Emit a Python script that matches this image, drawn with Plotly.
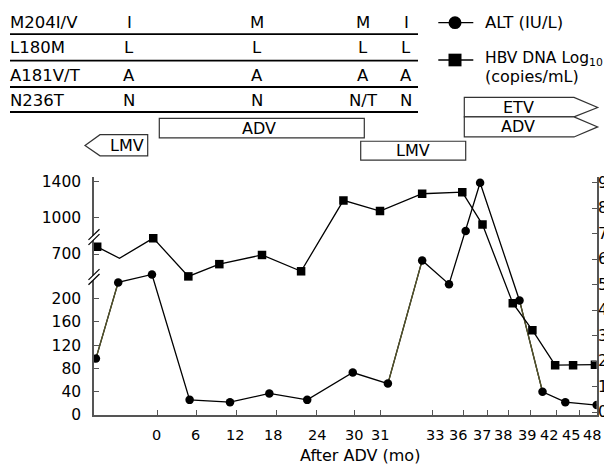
import numpy as np
import plotly.graph_objects as go

# ---------------- data ----------------
tick_months = [0, 6, 12, 18, 24, 30, 31, 33, 36, 37, 38, 39, 42, 45, 48]
tick_labels = [str(m) for m in tick_months]

# ALT (IU/L), left (broken) axis
alt_months = [-9.7, -6.2, -0.9, 5.0, 11.1, 17.0, 22.6, 29.8, 31.3, 32.6,
              34.6, 36.1, 36.7, 38.5, 40.4, 43.2, 48.0]
alt_values = [97, 228, 620, 26, 22, 37, 26, 73, 54, 675,
              225, 847, 1387, 197, 40, 22, 17]

# HBV DNA log10 copies/mL, right axis
dna_months = [-9.5, -6.0, -0.7, 4.8, 9.5, 15.9, 21.7, 28.3, 31.0, 32.6,
              35.9, 36.8, 38.2, 39.2, 41.9, 44.2, 47.7]
dna_values = [6.49, 6.04, 6.83, 5.33, 5.81, 6.17, 5.53, 8.31, 7.89, 8.57,
              8.63, 7.36, 4.28, 3.22, 1.85, 1.85, 1.87]
dna_marked = [1, 0, 1, 1, 1, 1, 1, 1, 1, 1, 1, 1, 1, 1, 1, 1, 1]

left_ticks = [0, 40, 80, 120, 160, 200, 700, 1000, 1400]
right_ticks = list(range(10))

mut_rows = ["M204I/V", "L180M", "A181V/T", "N236T"]
mut_cols = [["I", "L", "A", "N"],
            ["M", "L", "A", "N"],
            ["M", "L", "A", "N/T"],
            ["I", "L", "A", "N"]]

therapies = ["LMV", "ADV", "LMV", "ETV", "ADV"]

# ---------------- layout helpers ----------------
OFF = 8                       # page body margin
W, H = 612, 473 - OFF         # figure size
X0, X1 = 94, 596.7            # plot area in window px
Y0, Y1 = 178, 422.7
FONT = "DejaVu Sans"


def px(x):
    return (x - OFF) / W


def py(y):
    return 1 - (y - OFF) / H


# x scale: months -> axis position (non-uniform original axis)
tick_pos = [157.7, 196, 236, 276, 316.7, 354, 380, 432.7, 463.3, 487.3,
            508.3, 530.7, 556, 579.3, 596.7]
lab_pos = [156.7, 195, 235, 273, 316.7, 354, 380, 435, 458, 481.7,
           503, 526.7, 548.5, 570.5, 591.5]
anchor_m = [-10] + tick_months
anchor_p = [X0] + tick_pos


def xs(m):
    return np.interp(m, anchor_m, anchor_p)


# broken left axis: value -> display units
seg_v = [0, 230, 600, 760, 1456]
seg_d = [0, 137.3, 139, 181, Y1 - Y0]


def ys(v):
    return np.interp(v, seg_v, seg_d)


r_zero = 425.5
r_unit = 26.78
r_range = [(Y1 - r_zero) / r_unit, (r_zero - Y0) / r_unit]

fig = go.Figure()

ax = xs(alt_months)
ay = ys(alt_values)
dx = xs(dna_months)
mk = np.array(dna_marked, dtype=bool)

# DNA line + markers
fig.add_trace(go.Scatter(x=dx, y=dna_values, mode="lines", yaxis="y2",
                         line=dict(color="black", width=1.3), hoverinfo="skip"))
fig.add_trace(go.Scatter(x=dx[mk], y=np.array(dna_values)[mk], mode="markers", yaxis="y2",
                         marker=dict(symbol="square", color="#000000", size=8.5,
                                     opacity=1, line=dict(width=0))))
# ALT line
fig.add_trace(go.Scatter(x=ax, y=ay, mode="lines",
                         line=dict(color="black", width=1.3), hoverinfo="skip"))
for i in (0, 8, 13):
    fig.add_trace(go.Scatter(x=ax[i:i + 2], y=ay[i:i + 2], mode="lines",
                             line=dict(color="#55552a", width=1.3), hoverinfo="skip"))
fig.add_trace(go.Scatter(x=ax, y=ay, mode="markers",
                         marker=dict(symbol="circle", color="black", size=8.5,
                                     line=dict(width=0))))

shapes = []
annots = []

# mutation table
row_y = [20, 45.7, 74, 100]
line_y = [31.7, 59, 86, 111.7]
col_x = [129, 257, 363, 406]
for r, name in enumerate(mut_rows):
    annots.append(dict(x=px(8), y=py(row_y[r]), text=name, xanchor="left",
                       yanchor="middle", font=dict(size=16.5)))
    for c in range(4):
        annots.append(dict(x=px(col_x[c]), y=py(row_y[r]), text=mut_cols[c][r],
                           xanchor="center", yanchor="middle", font=dict(size=16.5)))
    shapes.append(dict(type="line", x0=px(10), x1=px(418), y0=py(line_y[r]),
                       y1=py(line_y[r]), line=dict(color="black", width=1.8)))


def path(pts):
    return "M " + " L ".join(f"{px(a):.5f},{py(b):.5f}" for a, b in pts) + " Z"


box_geo = [
    [(147.7, 135), (100, 135), (85, 146), (100, 156.7), (147.7, 156.7)],
    [(159.3, 118.3), (364.3, 118.3), (364.3, 138.3), (159.3, 138.3)],
    [(360.7, 141.7), (465.7, 141.7), (465.7, 161), (360.7, 161)],
    [(464.3, 96.7), (574, 96.7), (597.7, 107), (574, 116.7), (464.3, 116.7)],
    [(464.3, 116.7), (574, 116.7), (597.7, 127), (574, 137.3), (464.3, 137.3)],
]
box_lab = [(126.7, 146), (258.7, 128.3), (413.3, 151.3), (518.3, 106.7), (518.3, 127)]
for name, geo, (lx, ly) in zip(therapies, box_geo, box_lab):
    shapes.append(dict(type="path", path=path(geo), xref="paper", yref="paper",
                       line=dict(color="#333333", width=1.2), fillcolor="white"))
    annots.append(dict(x=px(lx), y=py(ly), text=name, xanchor="center",
                       yanchor="middle", font=dict(size=16)))

# legend
for yy, sym in ((20, "circle"), (58.3, "square")):
    shapes.append(dict(type="line", x0=px(438.3), x1=px(473.3), y0=py(yy), y1=py(yy),
                       line=dict(color="black", width=1.3)))
    rr = 6.5
    shapes.append(dict(type="circle" if sym == "circle" else "rect",
                       x0=px(455 - rr), x1=px(455 + rr), y0=py(yy - rr), y1=py(yy + rr),
                       fillcolor="black", line=dict(color="black", width=0)))
annots.append(dict(x=px(483), y=py(20), text="ALT (IU/L)", xanchor="left",
                   yanchor="middle", font=dict(size=16.5)))
annots.append(dict(x=px(483), y=py(57.3), text="HBV DNA Log<sub>10</sub>", xanchor="left",
                   yanchor="middle", font=dict(size=15.5)))
annots.append(dict(x=px(483), y=py(75), text="(copies/mL)", xanchor="left",
                   yanchor="middle", font=dict(size=16)))

# axis breaks
for c in (240, 281):
    shapes.append(dict(type="path", xref="paper", yref="paper", layer="above",
                       path=path([(88.5, c + 3), (99.5, c - 8), (99.5, c - 3), (88.5, c + 8)]),
                       fillcolor="white", line=dict(width=0)))
    for off in (0, 5):
        shapes.append(dict(type="line", layer="above", x0=px(88.5), x1=px(99.5),
                           y0=py(c + 3 + off), y1=py(c - 8 + off),
                           line=dict(color="black", width=1.2)))

# x tick labels & title
for lab, xp_ in zip(tick_labels, lab_pos):
    annots.append(dict(x=px(xp_), y=py(443), text=lab, xanchor="center",
                       yanchor="middle", font=dict(size=14.5)))
annots.append(dict(x=px(360), y=py(464), text="After ADV (mo)", xanchor="center",
                   yanchor="middle", font=dict(size=16)))

# right axis tick labels
for t in right_ticks:
    annots.append(dict(x=px(596), y=t, yref="y2", text=str(t), xanchor="left",
                       yanchor="middle", font=dict(size=15.5)))

for a in annots:
    a.setdefault("xref", "paper")
    a.setdefault("yref", "paper")
    a["showarrow"] = False
for s in shapes:
    s.setdefault("xref", "paper")
    s.setdefault("yref", "paper")

axcol = "#555555"
fig.update_layout(
    width=W, height=H, autosize=False,
    margin=dict(l=0, r=0, t=0, b=0),
    paper_bgcolor="white", plot_bgcolor="white",
    showlegend=False,
    font=dict(family=FONT, color="black"),
    xaxis=dict(domain=[px(X0), px(X1)], range=[X0, X1], showgrid=False, zeroline=False,
               showline=True, linecolor=axcol, linewidth=1.5,
               tickvals=tick_pos, ticks="inside",
               ticklen=5, tickcolor=axcol, showticklabels=False),
    yaxis=dict(domain=[py(Y1), py(Y0)], range=[0, Y1 - Y0], showgrid=False, zeroline=False,
               showline=True, linecolor=axcol, linewidth=1.5,
               tickvals=list(ys(left_ticks)), ticktext=[str(t) for t in left_ticks],
               ticks="inside", ticklen=5, tickcolor=axcol,
               tickfont=dict(size=15.5), ticklabelstandoff=8),
    yaxis2=dict(overlaying="y", side="right", range=r_range, showgrid=False,
                zeroline=False, showline=True, linecolor=axcol, linewidth=1.5,
                tickvals=right_ticks, ticks="inside", ticklen=5, tickcolor=axcol,
                showticklabels=False),
    shapes=shapes, annotations=annots,
)

fig.write_html("out.html")
